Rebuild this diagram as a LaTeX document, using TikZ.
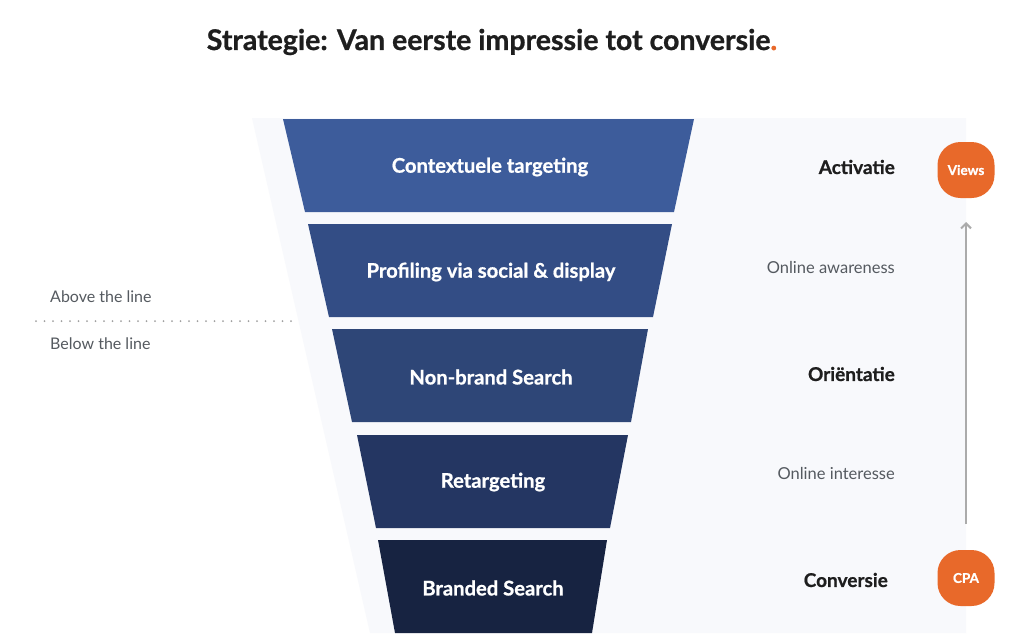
\documentclass[tikz,border=0pt]{standalone}
\usepackage{fontspec}
\setmainfont{Lato}[BoldFeatures={FakeBold=0.8}]
\usetikzlibrary{arrows.meta}
\definecolor{panel}{HTML}{F8F9FC}
\definecolor{fA}{HTML}{3D5C9B}
\definecolor{fB}{HTML}{334D85}
\definecolor{fC}{HTML}{2E4677}
\definecolor{fD}{HTML}{243662}
\definecolor{fE}{HTML}{172341}
\definecolor{orng}{HTML}{E8692A}
\definecolor{ink}{HTML}{1E1E1E}
\definecolor{soft}{HTML}{555A60}
\definecolor{arrowgray}{HTML}{ABABAB}
\definecolor{dotgray}{HTML}{A0A0A0}
\tikzset{
  flabel/.style={text=white,font=\fontsize{20.2}{23}\selectfont\bfseries,inner sep=0pt},
  stage/.style={text=ink,font=\fontsize{19}{22}\selectfont\bfseries,anchor=east,inner sep=0pt},
  sub/.style={text=soft,font=\fontsize{16.5}{19}\selectfont,anchor=east,inner sep=0pt},
  side/.style={text=soft,font=\fontsize{16}{19}\selectfont,anchor=west,inner sep=0pt},
  badge/.style={fill=orng,rounded corners=23pt,minimum width=57pt,minimum height=56pt,inner sep=0pt,text=white,font=\fontsize{13.5}{16}\selectfont\bfseries},
}
\begin{document}
\begin{tikzpicture}[x=1pt,y=-1pt]
\useasboundingbox[fill=white] (0,0) rectangle (1024,643);
% background panel
\fill[panel] (252,118) -- (966,118) -- (966,633) -- (370,633) -- cycle;
% title
\node[inner sep=0pt,text=ink,font=\fontsize{28.5}{33}\selectfont\bfseries] (title) at (492,42) {Strategie: Van eerste impressie tot conversie\textcolor{orng}{.}};
% funnel
\fill[fA] (283,119) -- (694,119) -- (674,212) -- (305,212) -- cycle;
\fill[fB] (308,224) -- (672,224) -- (653,317) -- (329,317) -- cycle;
\fill[fC] (332,329) -- (648,329) -- (631,422) -- (352,422) -- cycle;
\fill[fD] (357,435) -- (628,435) -- (610,528) -- (376,528) -- cycle;
\fill[fE] (378,540) -- (607,540) -- (592,633) -- (395,633) -- cycle;
\node[flabel] (l1) at (490,167) {Contextuele targeting};
\node[flabel] (l2) at (491,272) {Profiling via social \& display};
\node[flabel] (l3) at (491,377) {Non-brand Search};
\node[flabel] (l4) at (493,482) {Retargeting};
\node[flabel] (l5) at (493,588) {Branded Search};
% right labels
\node[stage] (s1) at (895,167) {Activatie};
\node[sub] (s2) at (895,267) {Online awareness};
\node[stage] (s3) at (895,374) {Oriëntatie};
\node[sub] (s4) at (895,473) {Online interesse};
\node[stage] (s5) at (888,580) {Conversie};
% badges and arrow
\node[badge] (views) at (966,170) {Views};
\node[badge] (cpa) at (966,578) {CPA};
\coordinate (abot) at (966,524);
\coordinate (atop) at (966,222);
\draw[arrowgray,line width=2pt,-{Straight Barb[length=5pt,width=10pt]}] (abot) -- (atop);
% left labels
\node[side] (above) at (50,297) {Above the line};
\node[side] (below) at (50,344) {Below the line};
\coordinate (d1) at (36,321);
\coordinate (d2) at (291,321);
\draw[dotgray,line width=2pt,line cap=round,dash pattern=on 0pt off 8.5pt] (d1) -- (d2);
\end{tikzpicture}
\end{document}
